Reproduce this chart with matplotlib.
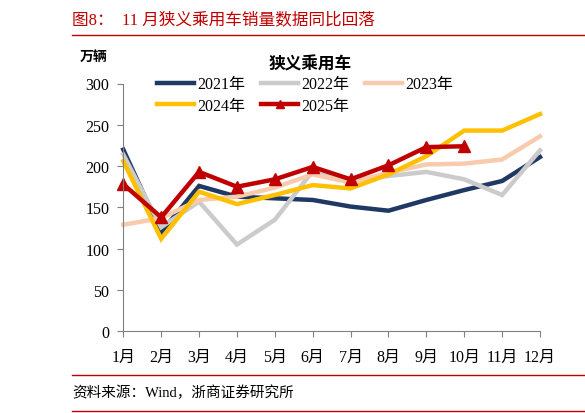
import matplotlib
matplotlib.use("Agg")
import matplotlib.pyplot as plt
from matplotlib.lines import Line2D

plt.rcParams['font.family'] = ['Liberation Serif', 'Noto Sans CJK SC']

months = ['1月', '2月', '3月', '4月', '5月', '6月', '7月', '8月', '9月', '10月', '11月', '12月']
y2021 = [220, 120, 176, 163, 161, 159, 151, 146, 159, 171, 182, 211]
y2022 = [214, 126, 157, 105, 135, 194, 183, 188, 193, 184, 165, 219]
y2023 = [129, 137, 159, 163, 174, 190, 180, 192, 202, 203, 208, 236]
y2024 = [206, 112, 169, 154, 165, 177, 173, 190, 212, 243, 243, 263]
y2025 = [178, 138, 193, 175, 184, 199, 184, 201, 223, 224]

red = '#C00000'
series = [
    ('2021年', y2021, '#1F3864', None),
    ('2022年', y2022, '#CBCBCB', None),
    ('2023年', y2023, '#F8CBAD', None),
    ('2024年', y2024, '#FFC000', None),
    ('2025年', y2025, red, '^'),
]

W, H = 585, 414
fig = plt.figure(figsize=(W / 100, H / 100), dpi=100)
ax = fig.add_axes([123.3 / W, (H - 332.3) / H, (540 - 123.3) / W, (332.3 - 84.5) / H])

lines = {}
for name, vals, c, m in series:
    x = list(range(len(vals)))
    ln, = ax.plot(x, vals, color=c, lw=3.2, marker=m, markersize=8,
                  solid_joinstyle='miter', label=name, clip_on=False)
    lines[name] = ln

ax.set_xlim(0, 11)
ax.set_ylim(0, 300)
ax.set_yticks(range(0, 301, 50))
ax.set_xticks(range(12))
ax.set_xticklabels(months)
for s in ['top', 'right']:
    ax.spines[s].set_visible(False)
for s in ['left', 'bottom']:
    ax.spines[s].set_color('#808080')
    ax.spines[s].set_linewidth(0.8)
ax.tick_params(axis='both', direction='out', length=4, color='#808080', labelsize=11.5)
ax.tick_params(axis='x', pad=9)
ax.tick_params(axis='y', pad=6)

# legend: row-major order -> reorder for matplotlib's column filling
order = ['2021年', '2024年', '2022年', '2025年', '2023年']
handles = []
for n in order:
    ln = lines[n]
    handles.append(Line2D([], [], color=ln.get_color(), lw=3.2, marker=ln.get_marker(),
                          markersize=6))
leg = fig.legend(handles, order, ncol=3, loc='upper left',
                 bbox_to_anchor=(151 / W, 1 - 71 / H), borderaxespad=0, frameon=False,
                 fontsize=11.5, handlelength=2.3, handletextpad=0.2,
                 columnspacing=1.0, labelspacing=0.35)
fig.text(310 / W, 1 - 64 / H, '狭义乘用车', fontsize=12, fontweight='bold',
         family=['Noto Sans CJK SC'], va='center', ha='center')

fig.text(80 / W, 1 - 57 / H, '万辆', fontsize=10, fontweight='bold',
         family=['Noto Sans CJK SC'], va='center', ha='left')

fig.text(72 / W, 1 - 20 / H, '图8：  11 月狭义乘用车销量数据同比回落', fontsize=12,
         color=red, va='center', ha='left')
fig.add_artist(Line2D([72 / W, 1], [1 - 36 / H] * 2, color=red, lw=1))
fig.text(72 / W, 1 - 393 / H, '资料来源：Wind，浙商证券研究所', fontsize=10.5,
         va='center', ha='left')
fig.add_artist(Line2D([72 / W, 1], [1 - 376 / H] * 2, color=red, lw=1))
fig.add_artist(Line2D([72 / W, 1], [1 - 412 / H] * 2, color=red, lw=1))

fig.savefig('out.png', dpi=100)
